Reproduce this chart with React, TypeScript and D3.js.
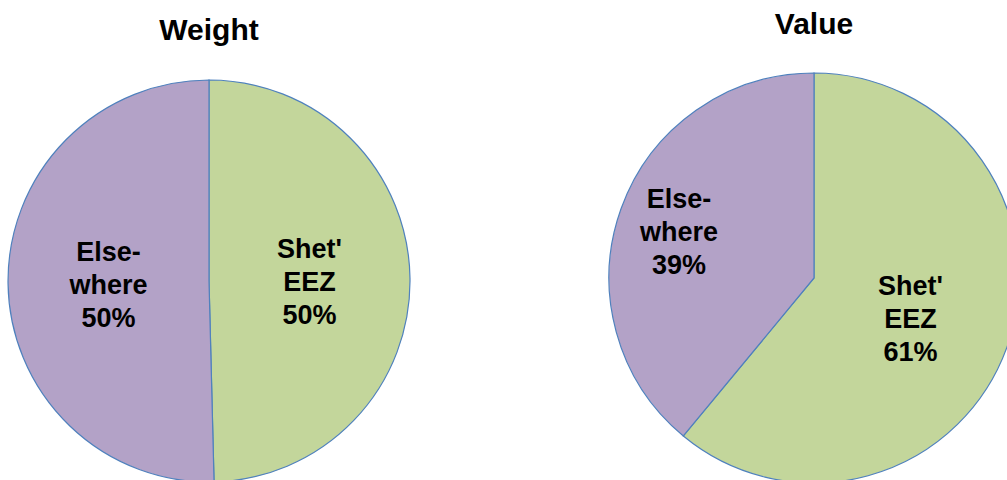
import React, { useEffect, useRef } from 'react';
import { select, pie, arc, PieArcDatum } from 'd3';

// data
const categories = ["Shet' EEZ", 'Elsewhere'];
const labelLines = [["Shet'", 'EEZ'], ['Else-', 'where']];
const chartTitles = ['Weight', 'Value'];
const weightValues = [49.6, 50.4];
const valueValues = [61, 39];
const shownPercents = [
  ['50%', '50%'],
  ['61%', '39%'],
];

const colors = ['#C3D69B', '#B3A2C7'];

type Slice = { name: string; value: number; idx: number };

const W = 1007;
const H = 480;

// layout for each pie
const pies = [
  { cx: 209, cy: 281, r: 201, titleY: 40, labelK: [0.5, 0.5], labelDy: [1, 2] },
  { cx: 814, cy: 278, r: 205, titleY: 34, labelK: [0.5, 0.7], labelDy: [5, 2] },
];

const App: React.FC = () => {
  const svgRef = useRef<SVGSVGElement>(null);

  useEffect(() => {
    if (!svgRef.current) return;
    const svg = select(svgRef.current).html('');
    const series = [weightValues, valueValues];

    series.forEach((vals, p) => {
      const cfg = pies[p];
      const data: Slice[] = vals.map((v, i) => ({ name: categories[i], value: v, idx: i }));

      const pieGen = pie<Slice>().value(d => d.value).sort(null);
      const arcs = pieGen(data);
      const arcGen = arc<PieArcDatum<Slice>>().innerRadius(0).outerRadius(cfg.r);

      const g = svg.append('g').attr('transform', `translate(${cfg.cx},${cfg.cy})`);

      g.selectAll('path')
        .data(arcs)
        .enter()
        .append('path')
        .attr('d', arcGen)
        .attr('fill', d => colors[d.data.idx])
        .attr('stroke', '#4F81BD')
        .attr('stroke-width', 1.2);

      // labels, three lines centred on a centroid
      arcs.forEach(d => {
        const k = cfg.labelK[d.data.idx];
        const lab = arc<PieArcDatum<Slice>>().innerRadius(cfg.r * k).outerRadius(cfg.r * k);
        const [x, y] = lab.centroid(d);
        const lines = [...labelLines[d.data.idx], shownPercents[p][d.data.idx]];
        const t = g.append('text')
          .attr('x', x)
          .attr('y', y + 10 + cfg.labelDy[d.data.idx] - 33)
          .attr('text-anchor', 'middle')
          .style('font-family', '"Liberation Sans", Arial, sans-serif')
          .style('font-weight', 'bold')
          .style('font-size', '27px')
          .attr('fill', '#000');
        lines.forEach((ln, i) => {
          t.append('tspan').attr('x', x).attr('dy', i === 0 ? 0 : 33).text(ln);
        });
      });

      svg.append('text')
        .attr('x', cfg.cx)
        .attr('y', cfg.titleY)
        .attr('text-anchor', 'middle')
        .style('font-family', '"Liberation Sans", Arial, sans-serif')
        .style('font-weight', 'bold')
        .style('font-size', '30px')
        .attr('fill', '#000')
        .text(chartTitles[p]);
    });
  }, []);

  return (
    <svg
      ref={svgRef}
      width={W}
      height={H}
      style={{ position: 'absolute', left: 0, top: 0, background: '#fff' }}
    />
  );
};

export default App;
